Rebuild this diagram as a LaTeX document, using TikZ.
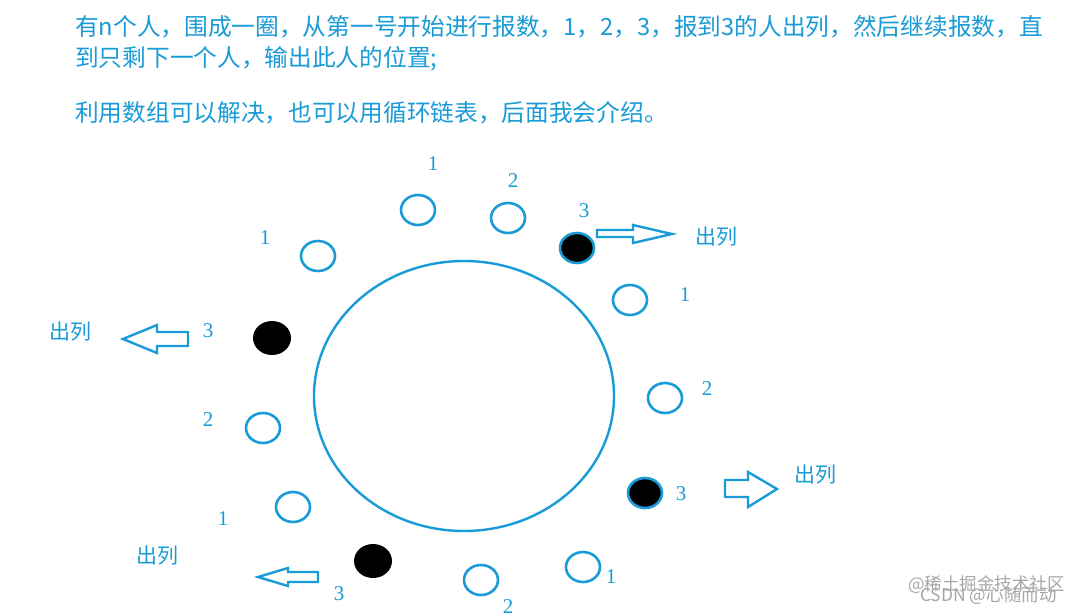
\documentclass[tikz,border=0pt]{standalone}
\usepackage{fontspec}
\setmainfont{Liberation Serif}
\newfontfamily\cjk{Noto Sans CJK SC}
\usetikzlibrary{shapes.geometric}
\definecolor{jblue}{RGB}{25,155,215}
\tikzset{
    person/.style={ellipse,draw=jblue,line width=2.6pt,minimum width=34pt,minimum height=30pt,inner sep=0pt},
    outp/.style={person,fill=black},
    gone/.style={ellipse,fill=black,minimum width=38pt,minimum height=34pt,inner sep=0pt},
    num/.style={text=jblue,font=\fontsize{21}{21}\selectfont,inner sep=0pt},
    outlbl/.style={text=jblue,font=\cjk\fontsize{21}{21}\selectfont,inner sep=0pt},
    para/.style={text=jblue,font=\cjk\fontsize{23.7}{23.7}\selectfont,inner sep=0pt,anchor=west},
    mark text/.style={text=gray!70,font=\cjk\fontsize{17.5}{17.5}\selectfont,inner sep=0pt,anchor=west},
    blockarrow/.style={draw=jblue,line width=2.4pt,line join=miter}
    }
\begin{document}
\begin{tikzpicture}[x=1pt,y=-1pt]
\useasboundingbox[fill=white] (0,0) rectangle (1087,614);
% text above
\node[para] (t1) at (75,27) {有n个人，围成一圈，从第一号开始进行报数，1，2，3，报到3的人出列，然后继续报数，直};
\node[para] (t2) at (75,59) {到只剩下一个人，输出此人的位置;};
\node[para] (t3) at (75,113) {利用数组可以解决，也可以用循环链表，后面我会介绍。};
% the ring
\draw[jblue,line width=2.4pt] (464,396) ellipse (150 and 135);
% people
\node[person] (p1) at (418,210) {};
\node[person] (p2) at (508,218) {};
\node[outp]   (p3) at (577,248) {};
\node[person] (p4) at (630,300) {};
\node[person] (p5) at (665,398) {};
\node[outp]   (p6) at (645,493) {};
\node[person] (p7) at (583,567) {};
\node[person] (p8) at (481,580) {};
\node[gone]   (p9) at (373,561) {};
\node[person] (p10) at (293,507) {};
\node[person] (p11) at (263,428) {};
\node[gone]   (p12) at (272,338) {};
\node[person] (p13) at (318,256) {};
% counts
\node[num] (n1) at (433,164) {1};
\node[num] (n2) at (513,181) {2};
\node[num] (n3) at (584,211) {3};
\node[num] (n4) at (685,295) {1};
\node[num] (n5) at (707,389) {2};
\node[num] (n6) at (681,494) {3};
\node[num] (n7) at (611,577) {1};
\node[num] (n8) at (508,607) {2};
\node[num] (n9) at (339,594) {3};
\node[num] (n10) at (223,519) {1};
\node[num] (n11) at (208,420) {2};
\node[num] (n12) at (208,331) {3};
\node[num] (n13) at (265,238) {1};
% out
\node[outlbl] (o1) at (716,237) {出列};
\node[outlbl] (o2) at (815,475) {出列};
\node[outlbl] (o3) at (157,556) {出列};
\node[outlbl] (o4) at (70,332) {出列};
\draw[blockarrow] (597,230) -- (633,230) -- (633,225) -- (672,234) -- (633,243) -- (633,237) -- (597,237) -- cycle;
\draw[blockarrow] (725,480) -- (748,480) -- (748,472) -- (777,489) -- (748,507) -- (748,497) -- (725,497) -- cycle;
\draw[blockarrow] (318,572) -- (288,572) -- (288,568) -- (258,577) -- (288,586) -- (288,582) -- (318,582) -- cycle;
\draw[blockarrow] (188,332) -- (157,332) -- (157,325) -- (123,339) -- (157,353) -- (157,346) -- (188,346) -- cycle;
% watermark
\node[mark text] (w1) at (908,585) {@稀土掘金技术社区};
\node[mark text] (w2) at (920,596) {CSDN @心随而动};
\end{tikzpicture}
\end{document}
